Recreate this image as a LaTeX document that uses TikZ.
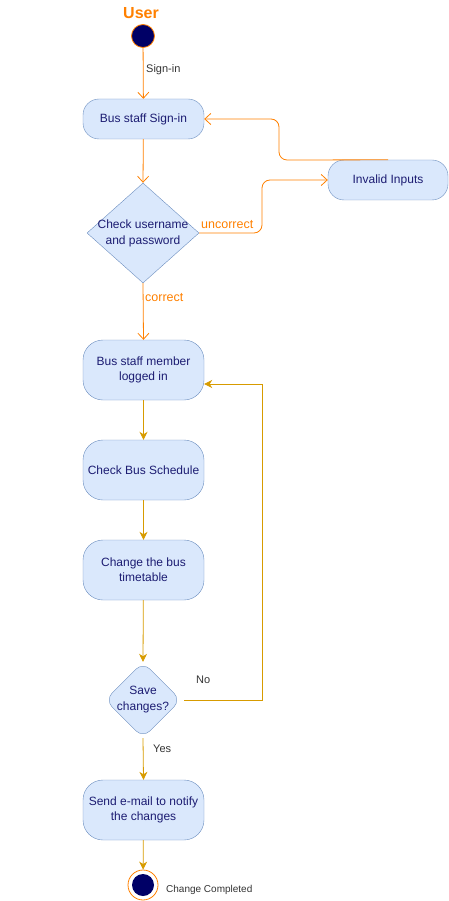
\documentclass[tikz,border=0pt]{standalone}
\usepackage{fontspec}
\setmainfont{Liberation Sans}
\usetikzlibrary{arrows.meta,shapes.geometric}
\definecolor{bfill}{HTML}{DAE8FC}
\definecolor{bline}{HTML}{6C8EBF}
\definecolor{orng}{HTML}{FF8000}
\definecolor{gold}{HTML}{D79B00}
\definecolor{navy}{HTML}{000066}
\definecolor{btext}{HTML}{1C1C72}
\definecolor{lbl}{HTML}{333333}
\begin{document}
\begin{tikzpicture}[x=1pt,y=-1pt,
  act/.style={draw=bline,fill=bfill,rounded corners=16pt,minimum width=121pt,inner sep=0pt,align=center,text=btext,font=\fontsize{12}{15}\selectfont},
  dia/.style={diamond,draw=bline,fill=bfill,inner sep=0pt},
  dtext/.style={align=center,text=btext,font=\fontsize{12}{16}\selectfont},
  oarr/.style={draw=orng,line width=0.8pt,-{Straight Barb[length=6pt,width=11pt]},rounded corners=8pt},
  garr/.style={draw=gold,line width=0.8pt,-{Stealth[length=8pt,width=8pt,inset=2.5pt]}},
  olbl/.style={text=orng,font=\fontsize{12.5}{14}\selectfont,inner sep=0pt,anchor=west},
  glbl/.style={text=lbl,font=\fontsize{11}{13}\selectfont,inner sep=0pt,anchor=west}]
\useasboundingbox (0,0) rectangle (449,901);
% title and start
\node[text=orng,font=\bfseries\fontsize{16}{18}\selectfont] (user) at (141,13) {User};
\node[circle,draw=orng,line width=0.8pt,fill=navy,minimum size=23pt,inner sep=0pt] (start) at (143,36) {};
% activities
\node[act,minimum height=40pt] (signin) at (143.5,119) {Bus staff Sign-in};
\node[act,minimum height=40pt,minimum width=120pt] (invalid) at (388,180) {Invalid Inputs};
\node[dia,minimum width=112pt,minimum height=100pt] (check) at (143,233) {};
\node[dtext] at (check.center) {Check username\\and password};
\node[act,minimum height=60pt,rounded corners=20pt] (logged) at (143.5,370) {Bus staff member\\logged in};
\node[act,minimum height=60pt,rounded corners=20pt] (sched) at (143.5,470) {Check Bus Schedule};
\node[act,minimum height=60pt,rounded corners=20pt] (change) at (143.5,570) {Change the bus\\timetable};
\node[dia,minimum width=76pt,minimum height=76pt,rounded corners=10pt] (save) at (143,700) {};
\node[dtext,font=\fontsize{12}{16}\selectfont] at (save.center) {Save\\changes?};
\node[act,minimum height=60pt,rounded corners=20pt] (send) at (143.5,810) {Send e-mail to notify\\the changes};
% end
\node[circle,draw=orng,line width=0.8pt,fill=white,minimum size=30pt,inner sep=0pt] (end) at (143,885) {};
\node[circle,fill=navy,minimum size=22pt,inner sep=0pt] (endin) at (end.center) {};
% connectors
\draw[oarr] (start) -- (signin);
\node[glbl] at (146,70) {Sign-in};
\draw[oarr] (signin) -- (check.north);
\coordinate (uc1) at (262,233);
\coordinate (uc2) at (262,180);
\draw[oarr] (check.east) -- (uc1) -- (uc2) -- (invalid.west);
\node[olbl,anchor=south west] at (201,229) {uncorrect};
\coordinate (iv1) at (279,160);
\coordinate (iv2) at (279,119);
\draw[oarr] (invalid.north) -- (iv1) -- (iv2) -- (signin.east);
\draw[oarr] (check.south) -- (logged.north);
\node[olbl] at (145,298) {correct};
\draw[garr] (logged) -- (sched);
\draw[garr] (sched) -- (change);
\draw[garr] (change) -- (save.north);
\coordinate (no0) at (184,700);
\coordinate (no1) at (262,700);
\coordinate (no2) at (262,384);
\draw[garr] (no0) -- (no1) -- (no2) -- (logged.east |- no2);
\node[glbl] at (196,680) {No};
\draw[garr] (save.south) -- (send.north);
\node[glbl] at (153,749) {Yes};
\draw[garr] (send) -- (end);
\node[glbl,font=\fontsize{10}{12}\selectfont] (done) at (166,890) {Change Completed};
\end{tikzpicture}
\end{document}
